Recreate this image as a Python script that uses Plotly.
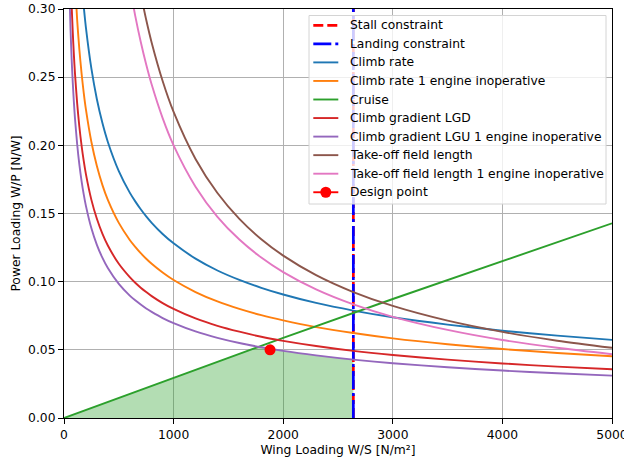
import numpy as np
import plotly.graph_objects as go

# ---------------- data ----------------
WS = [50, 60, 70, 80, 90, 100, 120, 140, 160, 180, 200, 250, 300, 350, 400,
      500, 600, 650, 700, 750, 800, 900, 1000, 1200, 1400, 1600, 1800, 2000,
      2300, 2640, 3000, 3500, 4000, 4500, 5000]

CLIMB_RATE = [None, None, None, None, None, None, None, None, None, 0.3019,
              0.2864, 0.2562, 0.2338, 0.2165, 0.2025, 0.1811, 0.1653, 0.1589,
              0.1531, 0.1479, 0.1432, 0.1350, 0.1281, 0.1169, 0.1082, 0.1013,
              0.0955, 0.0906, 0.0844, 0.0788, 0.0739, 0.0685, 0.0640, 0.0604,
              0.0573]

CLIMB_RATE_OEI = [None, None, None, None, None, 0.3200, 0.2921, 0.2705, 0.2530,
                  0.2385, 0.2263, 0.2024, 0.1848, 0.1710, 0.1600, 0.1431,
                  0.1306, 0.1255, 0.1209, 0.1168, 0.1131, 0.1067, 0.1012,
                  0.0924, 0.0855, 0.0800, 0.0754, 0.0716, 0.0667, 0.0623,
                  0.0584, 0.0541, 0.0506, 0.0477, 0.0453]

CLIMB_GRAD_LGD = [None, 0.3266, 0.3024, 0.2829, 0.2667, 0.2530, 0.2310, 0.2138,
                  0.2000, 0.1886, 0.1789, 0.1600, 0.1461, 0.1352, 0.1265,
                  0.1131, 0.1033, 0.0992, 0.0956, 0.0924, 0.0894, 0.0843,
                  0.0800, 0.0730, 0.0676, 0.0633, 0.0596, 0.0566, 0.0528,
                  0.0492, 0.0462, 0.0428, 0.0400, 0.0377, 0.0358]

CLIMB_GRAD_LGU_OEI = [0.311, 0.284, 0.263, 0.246, 0.232, 0.220, 0.201, 0.186,
                      0.174, 0.164, 0.1556, 0.1391, 0.1270, 0.1176, 0.1100,
                      0.0984, 0.0898, 0.0863, 0.0832, 0.0803, 0.0778, 0.0733,
                      0.0696, 0.0635, 0.0588, 0.0550, 0.0519, 0.0492, 0.0459,
                      0.0428, 0.0402, 0.0372, 0.0348, 0.0328, 0.0311]

TAKEOFF = [None, None, None, None, None, None, None, None, None, None, None,
           None, None, None, None, None, None, None, 0.3112, 0.2921, 0.2753,
           0.2472, 0.2245, 0.1900, 0.1650, 0.1460, 0.1311, 0.1191, 0.1048,
           0.0924, 0.0822, 0.0714, 0.0632, 0.0567, 0.0515]

TAKEOFF_OEI = [None, None, None, None, None, None, None, None, None, None, None,
               None, None, None, None, None, 0.3171, 0.2950, 0.2760, 0.2593,
               0.2446, 0.2200, 0.2000, 0.1697, 0.1476, 0.1309, 0.1177, 0.1070,
               0.0943, 0.0833, 0.0742, 0.0646, 0.0572, 0.0515, 0.0468]

CRUISE_WS = [0, 1000, 2000, 3000, 4000, 5000]
CRUISE_WP = [0.0, 0.0296, 0.0588, 0.0873, 0.1153, 0.1428]

STALL_WS = 2640
LANDING_WS = 2640
DESIGN_WS = [1880]
DESIGN_WP = [0.050]

X_TICKS = [0, 1000, 2000, 3000, 4000, 5000]
Y_TICKS = [0.00, 0.05, 0.10, 0.15, 0.20, 0.25, 0.30]
X_RANGE = [0, 5000]
Y_RANGE = [0, 0.30]

LABELS = ["Stall constraint", "Landing constraint", "Climb rate",
          "Climb rate 1 engine inoperative", "Cruise", "Climb gradient LGD",
          "Climb gradient LGU 1 engine inoperative", "Take-off field length",
          "Take-off field length 1 engine inoperative", "Design point"]

# ---------------- styling ----------------
C_BLUE = "#1f77b4"
C_ORANGE = "#ff7f0e"
C_GREEN = "#2ca02c"
C_RED = "#d62728"
C_PURPLE = "#9467bd"
C_BROWN = "#8c564b"
C_PINK = "#e377c2"
FONT = "DejaVu Sans"
FS = 12.3

W, H = 624, 461
ML, MR, MT, MB = 64, 12, 9, 43
PW, PH = W - ML - MR, H - MT - MB


def px_x(px):
    return (px - ML) / PW


def px_y(py):
    return (H - MB - py) / PH


fig = go.Figure()

# feasible region (below cruise and LGU climb gradient, left of stall/landing)
lgu_ws = [w for w, v in zip(WS, CLIMB_GRAD_LGU_OEI) if v is not None]
lgu_wp = [v for v in CLIMB_GRAD_LGU_OEI if v is not None]
xf = np.linspace(0, min(STALL_WS, LANDING_WS), 600)
top = np.minimum(np.interp(xf, CRUISE_WS, CRUISE_WP),
                 np.interp(xf, lgu_ws, lgu_wp, left=np.inf))
fig.add_trace(go.Scatter(
    x=np.concatenate([xf, [min(STALL_WS, LANDING_WS), 0]]),
    y=np.concatenate([top, [0, 0]]),
    fill="toself", fillcolor="rgba(44,160,44,0.36)", mode="lines",
    line=dict(width=0, color="rgba(0,0,0,0)"), hoverinfo="skip",
    showlegend=False))

fig.add_trace(go.Scatter(x=[STALL_WS, STALL_WS], y=Y_RANGE, mode="lines",
                         name=LABELS[0],
                         line=dict(color="#ff0000", width=2.7, dash="10px,4px")))
fig.add_trace(go.Scatter(x=[LANDING_WS, LANDING_WS], y=Y_RANGE, mode="lines",
                         name=LABELS[1],
                         line=dict(color="#0000ff", width=2.7,
                                   dash="18px,4px,3px,4px")))

curves = [
    (CLIMB_RATE, C_BLUE, LABELS[2]),
    (CLIMB_RATE_OEI, C_ORANGE, LABELS[3]),
    (None, C_GREEN, LABELS[4]),
    (CLIMB_GRAD_LGD, C_RED, LABELS[5]),
    (CLIMB_GRAD_LGU_OEI, C_PURPLE, LABELS[6]),
    (TAKEOFF, C_BROWN, LABELS[7]),
    (TAKEOFF_OEI, C_PINK, LABELS[8]),
]
for ys, col, name in curves:
    if ys is None:
        fig.add_trace(go.Scatter(x=CRUISE_WS, y=CRUISE_WP, mode="lines",
                                 name=name, line=dict(color=col, width=1.9)))
    else:
        fig.add_trace(go.Scatter(x=WS, y=ys, mode="lines", name=name,
                                 connectgaps=False,
                                 line=dict(color=col, width=1.9,
                                           shape="spline", smoothing=0.8)))

fig.add_trace(go.Scatter(x=DESIGN_WS, y=DESIGN_WP, mode="markers",
                         name=LABELS[9],
                         marker=dict(color="#ff0000", size=11,
                                     line=dict(width=0))))

# ---------------- manual matplotlib-style legend ----------------
shapes = []
annotations = []
box_l, box_r, box_t, box_b = 309, 606, 15.5, 204
shapes.append(dict(type="rect", xref="paper", yref="paper",
                   x0=px_x(box_l), x1=px_x(box_r), y0=px_y(box_b), y1=px_y(box_t),
                   line=dict(color="#d4d4d4", width=1),
                   fillcolor="rgba(255,255,255,0.8)", layer="above"))
styles = [
    ("#ff0000", 2.7, "10px,4px"),
    ("#0000ff", 2.7, "18px,4px,3px,4px"),
    (C_BLUE, 1.9, "solid"),
    (C_ORANGE, 1.9, "solid"),
    (C_GREEN, 1.9, "solid"),
    (C_RED, 1.9, "solid"),
    (C_PURPLE, 1.9, "solid"),
    (C_BROWN, 1.9, "solid"),
    (C_PINK, 1.9, "solid"),
    ("#ff0000", 1.9, "solid"),
]
line_x0, line_x1, text_x = 313.3, 338.3, 347.5
for i, (lab, (col, lw, dash)) in enumerate(zip(LABELS, styles)):
    cy = 25.3 + 18.55 * i
    shapes.append(dict(type="line", xref="paper", yref="paper",
                       x0=px_x(line_x0), x1=px_x(line_x1),
                       y0=px_y(cy), y1=px_y(cy),
                       line=dict(color=col, width=lw, dash=dash), layer="above"))
    if i == 9:
        cx = (line_x0 + line_x1) / 2
        r = 5.5
        shapes.append(dict(type="circle", xref="paper", yref="paper",
                           x0=px_x(cx - r), x1=px_x(cx + r),
                           y0=px_y(cy + r), y1=px_y(cy - r),
                           fillcolor="#ff0000", line=dict(width=0),
                           layer="above"))
    annotations.append(dict(xref="paper", yref="paper", x=px_x(text_x),
                            y=px_y(cy), xanchor="left", yanchor="middle",
                            text=lab, showarrow=False,
                            font=dict(family=FONT, size=FS, color="#000000")))

axis_common = dict(showline=True, mirror=True, linecolor="#000000", linewidth=1.1,
                   ticks="outside", ticklen=5, tickwidth=1.1,
                   tickcolor="#000000", showgrid=True, gridcolor="#b0b0b0",
                   gridwidth=1, zeroline=False, automargin=False,
                   ticklabeloverflow="allow",
                   tickfont=dict(family=FONT, size=FS, color="#000000"))

fig.update_layout(
    width=W, height=H,
    margin=dict(l=ML, r=MR, t=MT, b=MB, pad=0),
    paper_bgcolor="#ffffff", plot_bgcolor="#ffffff",
    showlegend=False,
    font=dict(family=FONT, size=FS, color="#000000"),
    xaxis=dict(range=X_RANGE, tickvals=X_TICKS,
               ticktext=[str(v) for v in X_TICKS],
               title=dict(text="Wing Loading W/S [N/m²]", standoff=4,
                          font=dict(family=FONT, size=FS, color="#000000")),
               **axis_common),
    yaxis=dict(range=Y_RANGE, tickvals=Y_TICKS,
               ticktext=[f"{v:.2f}" for v in Y_TICKS],
               title=dict(text="Power Loading W/P [N/W]", standoff=4,
                          font=dict(family=FONT, size=FS, color="#000000")),
               **axis_common),
    shapes=shapes,
    annotations=annotations,
)

fig.write_html("out.html", config={"displayModeBar": False})
